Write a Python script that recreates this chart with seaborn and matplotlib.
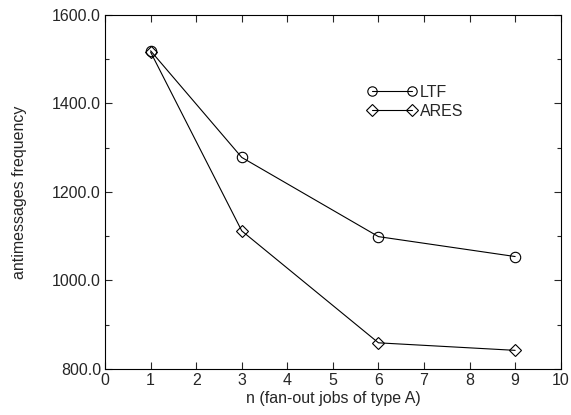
import matplotlib
matplotlib.use("Agg")
import matplotlib.pyplot as plt
from matplotlib.ticker import MultipleLocator, FormatStrFormatter
import seaborn as sns
import pandas as pd

# data
n_jobs = [1, 3, 6, 9]
ltf_freq = [1519, 1278, 1099, 1054]
ares_freq = [1516, 1112, 859, 842]

sns.set_style("ticks")
plt.rcParams["font.family"] = ["Liberation Sans", "DejaVu Sans"]

fig = plt.figure(figsize=(5.71, 4.15), dpi=100)
ax = fig.add_axes([0.184, 0.111, 0.798, 0.853])

df_ltf = pd.DataFrame({"n": n_jobs, "freq": ltf_freq})
df_ares = pd.DataFrame({"n": n_jobs, "freq": ares_freq})

sns.lineplot(data=df_ltf, x="n", y="freq", ax=ax, color="black", lw=0.8,
             marker="o", markersize=7.5, markerfacecolor="none",
             markeredgecolor="black", markeredgewidth=0.8, label="LTF")
sns.lineplot(data=df_ares, x="n", y="freq", ax=ax, color="black", lw=0.8,
             marker="D", markersize=6.5, markerfacecolor="none",
             markeredgecolor="black", markeredgewidth=0.8, label="ARES")

ax.set_xlim(0, 10)
ax.set_ylim(800, 1600)
ax.xaxis.set_major_locator(MultipleLocator(1))
ax.yaxis.set_major_locator(MultipleLocator(200))
ax.yaxis.set_minor_locator(MultipleLocator(100))
ax.yaxis.set_major_formatter(FormatStrFormatter("%.1f"))
ax.tick_params(which="both", direction="in", top=True, right=True,
               labelsize=11.5, width=0.8, pad=3)
ax.tick_params(which="major", length=5)
ax.tick_params(which="minor", length=3)
for s in ax.spines.values():
    s.set_linewidth(0.8)
    s.set_color("black")

ax.set_xlabel("n (fan-out jobs of type A)", fontsize=11.5, labelpad=2)
ax.set_ylabel("antimessages frequency", fontsize=11.5, labelpad=18)

ax.legend(loc="upper left", bbox_to_anchor=(0.562, 0.82), numpoints=2,
          frameon=False, fontsize=11.5, handlelength=3.1, handletextpad=0.2,
          labelspacing=0.25, borderaxespad=0, markerscale=0.9)

fig.savefig("out.png", dpi=100)
